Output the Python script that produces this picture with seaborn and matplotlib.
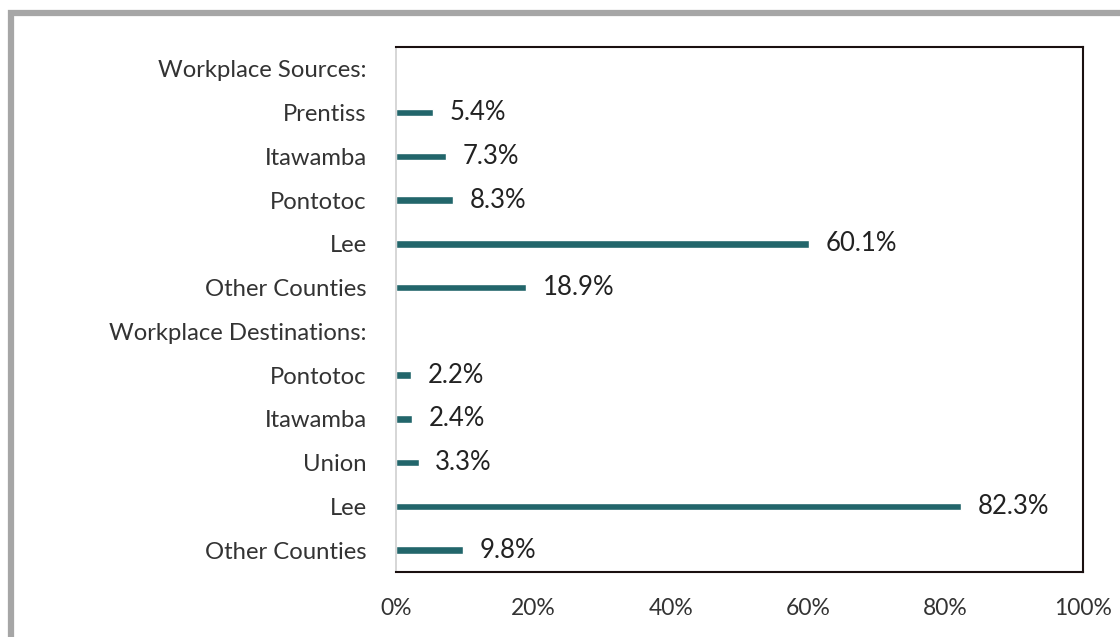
import matplotlib
matplotlib.use("Agg")
import matplotlib.pyplot as plt
import seaborn as sns
import pandas as pd
import numpy as np
from matplotlib.patches import Rectangle

labels = ["Workplace Sources:", "Prentiss", "Itawamba", "Pontotoc", "Lee", "Other Counties",
          "Workplace Destinations:", "Pontotoc", "Itawamba", "Union", "Lee", "Other Counties"]
values = [np.nan, 5.4, 7.3, 8.3, 60.1, 18.9, np.nan, 2.2, 2.4, 3.3, 82.3, 9.8]
xticks = [0, 20, 40, 60, 80, 100]
xticklabels = ["0%", "20%", "40%", "60%", "80%", "100%"]

sns.set_theme(style="white")
plt.rcParams['font.family'] = ['Lato', 'DejaVu Sans']

df = pd.DataFrame({"key": [f"r{i}" for i in range(len(labels))],
                   "value": [0 if np.isnan(v) else v for v in values]})

fig = plt.figure(figsize=(11.2, 6.37), dpi=100)
ax = fig.add_axes([396/1120, 1-572/637, (1083-396)/1120, (572-47)/637])

sns.barplot(data=df, x="value", y="key", ax=ax, color="#22666B", width=0.17,
            saturation=1, orient="h")

for i, v in enumerate(values):
    if not np.isnan(v):
        ax.annotate(f"{v:.1f}%", xy=(v, i), xytext=(12, 0), textcoords="offset points",
                    va="center", ha="left", fontsize=18.5, color="#222222")

ax.set_xlim(0, 100)
ax.set_xticks(xticks)
ax.set_xticklabels(xticklabels, fontsize=16.5, color="#333333")
ax.set_yticks(range(len(labels)))
ax.set_yticklabels(labels, fontsize=17.2, color="#333333")
ax.set_xlabel("")
ax.set_ylabel("")
ax.tick_params(axis="both", length=0)
ax.tick_params(axis="x", pad=19)
ax.tick_params(axis="y", pad=21)

for s in ["top", "right", "bottom"]:
    ax.spines[s].set_color("#1a1010")
    ax.spines[s].set_linewidth(1.5)
ax.spines["left"].set_color("#d0d0d0")
ax.spines["left"].set_linewidth(1.2)

fig.patches.append(Rectangle((11/1120, -0.1), 1.2, 1 - 13/637 + 0.1, transform=fig.transFigure,
                             fill=False, edgecolor="#A6A6A6", linewidth=4.5))

fig.savefig("out.png", dpi=100)
